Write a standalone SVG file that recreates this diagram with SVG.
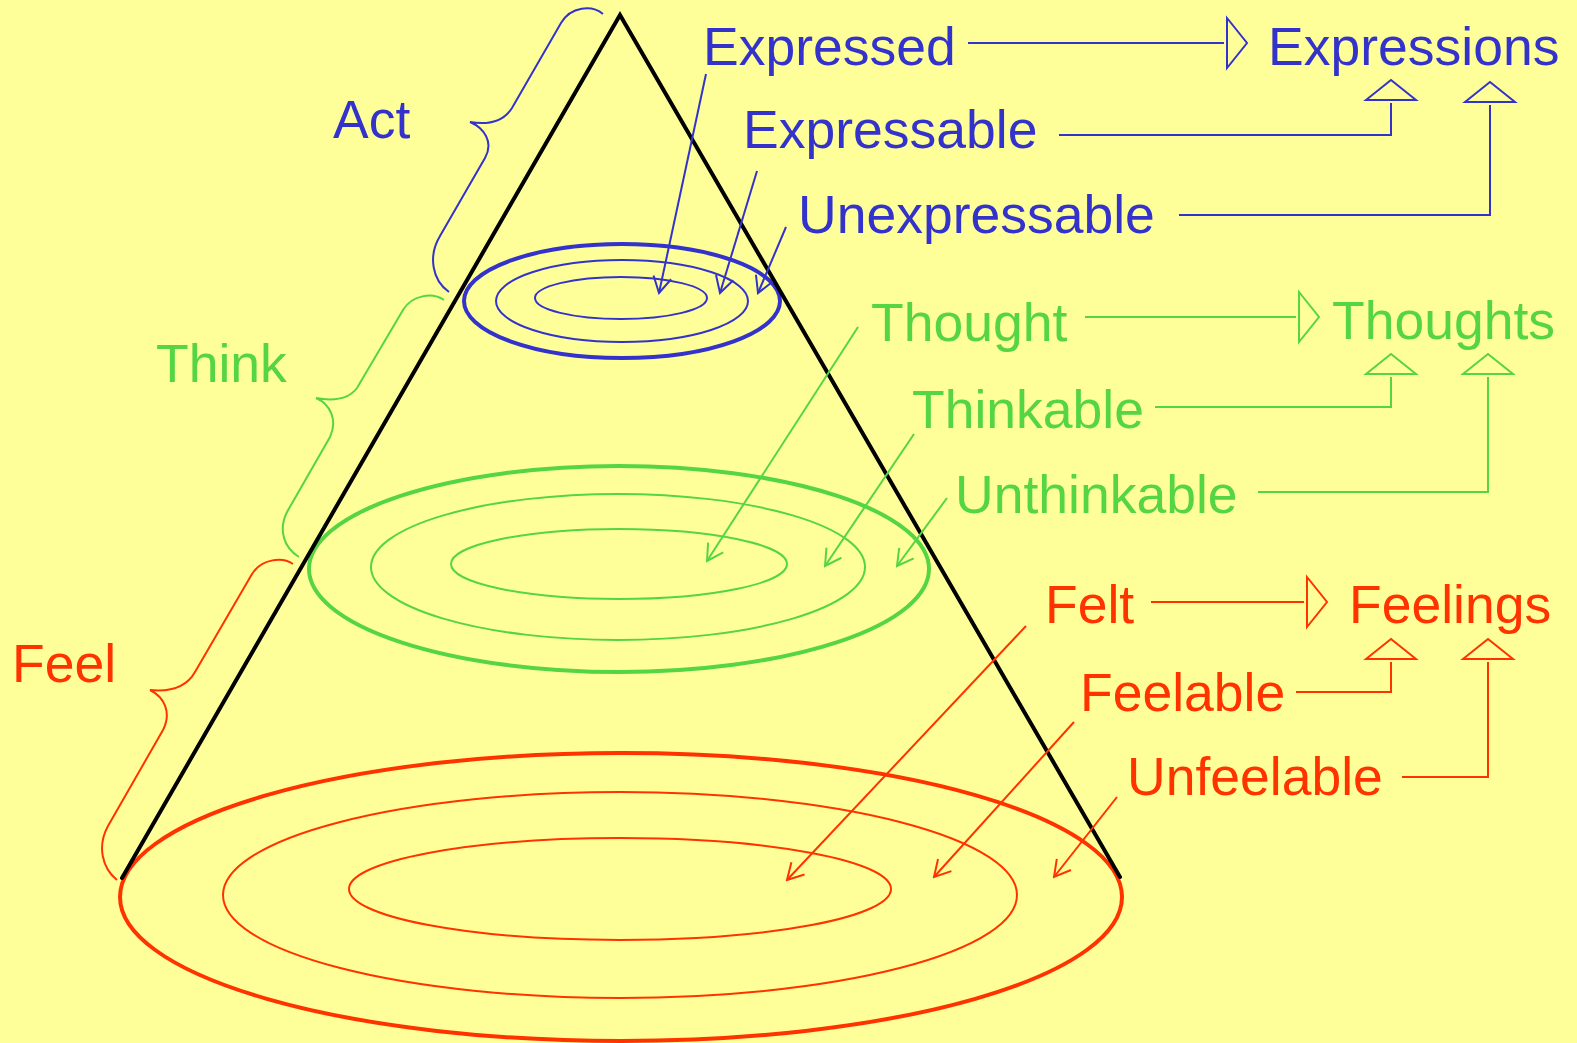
<svg xmlns="http://www.w3.org/2000/svg" width="1577" height="1043" viewBox="0 0 1577 1043">
<style>
.t{font-family:"Liberation Sans",Arial,sans-serif;font-size:53.5px}
.b{fill:#3333CC}.g{fill:#55D544}.r{fill:#FF3300}
.sb{stroke:#3333CC;fill:none}.sg{stroke:#55D544;fill:none}.sr{stroke:#FF3300;fill:none}
.thin{stroke-width:2}.thick{stroke-width:4}
.cone{stroke:#000;stroke-width:4;fill:none;stroke-linecap:round}
</style>
<defs>
<marker id="vb" viewBox="-20 -12 22 24" markerWidth="22" markerHeight="24" refX="0" refY="0" markerUnits="userSpaceOnUse" orient="auto"><path d="M-16,-9 L0,0 L-16,9" fill="none" stroke="#3333CC" stroke-width="2"/></marker>
<marker id="vg" viewBox="-20 -12 22 24" markerWidth="22" markerHeight="24" refX="0" refY="0" markerUnits="userSpaceOnUse" orient="auto"><path d="M-16,-9 L0,0 L-16,9" fill="none" stroke="#55D544" stroke-width="2"/></marker>
<marker id="vr" viewBox="-20 -12 22 24" markerWidth="22" markerHeight="24" refX="0" refY="0" markerUnits="userSpaceOnUse" orient="auto"><path d="M-16,-9 L0,0 L-16,9" fill="none" stroke="#FF3300" stroke-width="2"/></marker>
<marker id="tb" viewBox="-4 -28 28 56" markerWidth="28" markerHeight="56" refX="-3" refY="0" markerUnits="userSpaceOnUse" orient="auto"><path d="M0,-25 L20,0 L0,25 Z" fill="none" stroke="#3333CC" stroke-width="2"/></marker>
<marker id="tg" viewBox="-4 -28 28 56" markerWidth="28" markerHeight="56" refX="-3" refY="0" markerUnits="userSpaceOnUse" orient="auto"><path d="M0,-25 L20,0 L0,25 Z" fill="none" stroke="#55D544" stroke-width="2"/></marker>
<marker id="tr" viewBox="-4 -28 28 56" markerWidth="28" markerHeight="56" refX="-3" refY="0" markerUnits="userSpaceOnUse" orient="auto"><path d="M0,-25 L20,0 L0,25 Z" fill="none" stroke="#FF3300" stroke-width="2"/></marker>
</defs>
<rect x="0" y="0" width="1577" height="1043" fill="#FFFF99"/>

<g id="rings-feel">
<ellipse class="sr thick" cx="621" cy="897" rx="501" ry="144"/>
<ellipse class="sr thin" cx="620" cy="895" rx="397" ry="103"/>
<ellipse class="sr thin" cx="620" cy="889" rx="271" ry="51"/>
</g>
<g id="rings-think">
<ellipse class="sg thick" cx="619" cy="569" rx="310" ry="103"/>
<ellipse class="sg thin" cx="618" cy="567" rx="247" ry="73"/>
<ellipse class="sg thin" cx="619" cy="564" rx="168" ry="35"/>
</g>
<g id="rings-act">
<ellipse class="sb thick" cx="622" cy="301" rx="158" ry="57"/>
<ellipse class="sb thin" cx="622" cy="301" rx="126" ry="41"/>
<ellipse class="sb thin" cx="621" cy="298" rx="86" ry="21"/>
</g>
<g id="cone">
<path class="cone" d="M122,878 L620,15 L1120,877"/>
</g>
<g id="braces">
<path class="sb thin" d="M603,14 C592,5 571,6 561,23 L512,108 C503,122 488,125 470,122 C484,128 494,142 485,158 L440,236 C428,256 432,280 449,292"/>
<path class="sg thin" d="M444,300 C432,292 412,295 403,310 L357,388 C348,400 332,401 316,398 C330,404 338,420 330,437 L287,512 C278,530 284,548 299,557"/>
<path class="sr thin" d="M293,564 C283,557 262,558 252,574 L195,672 C186,688 170,692 150,690 C164,697 172,712 163,730 L108,826 C97,846 102,868 117,880"/>
</g>

<g id="labels-act">
<text class="t b" x="333" y="138">Act</text>
<text class="t b" x="703" y="65">Expressed</text>
<text class="t b" x="743" y="148">Expressable</text>
<text class="t b" x="798" y="233">Unexpressable</text>
<text class="t b" x="1268" y="65">Expressions</text>
</g>
<g id="labels-think">
<text class="t g" x="156" y="382">Think</text>
<text class="t g" x="871" y="341">Thought</text>
<text class="t g" x="912" y="428">Thinkable</text>
<text class="t g" x="955" y="513">Unthinkable</text>
<text class="t g" x="1332" y="339">Thoughts</text>
</g>
<g id="labels-feel">
<text class="t r" x="12" y="682">Feel</text>
<text class="t r" x="1045" y="623">Felt</text>
<text class="t r" x="1080" y="711">Feelable</text>
<text class="t r" x="1127" y="795">Unfeelable</text>
<text class="t r" x="1349" y="623">Feelings</text>
</g>

<g id="connectors">
<path class="sb thin" d="M968,43 H1224" marker-end="url(#tb)"/>
<path class="sb thin" d="M1059,135 H1391 V103" marker-end="url(#tb)"/>
<path class="sb thin" d="M1179,215 H1490 V105" marker-end="url(#tb)"/>
<path class="sb thin" d="M706,74 L659,293" marker-end="url(#vb)"/>
<path class="sb thin" d="M757,171 L720,293" marker-end="url(#vb)"/>
<path class="sb thin" d="M786,227 L758,293" marker-end="url(#vb)"/>

<path class="sg thin" d="M1085,317 H1296" marker-end="url(#tg)"/>
<path class="sg thin" d="M1155,407 H1391 V377" marker-end="url(#tg)"/>
<path class="sg thin" d="M1258,492 H1488 V377" marker-end="url(#tg)"/>
<path class="sg thin" d="M858,327 L707,561" marker-end="url(#vg)"/>
<path class="sg thin" d="M914,434 L825,566" marker-end="url(#vg)"/>
<path class="sg thin" d="M947,498 L897,566" marker-end="url(#vg)"/>

<path class="sr thin" d="M1151,602 H1304" marker-end="url(#tr)"/>
<path class="sr thin" d="M1296,692 H1391 V662" marker-end="url(#tr)"/>
<path class="sr thin" d="M1402,777 H1488 V662" marker-end="url(#tr)"/>
<path class="sr thin" d="M1026,626 L787,880" marker-end="url(#vr)"/>
<path class="sr thin" d="M1074,722 L934,877" marker-end="url(#vr)"/>
<path class="sr thin" d="M1117,797 L1054,877" marker-end="url(#vr)"/>
</g>
</svg>
